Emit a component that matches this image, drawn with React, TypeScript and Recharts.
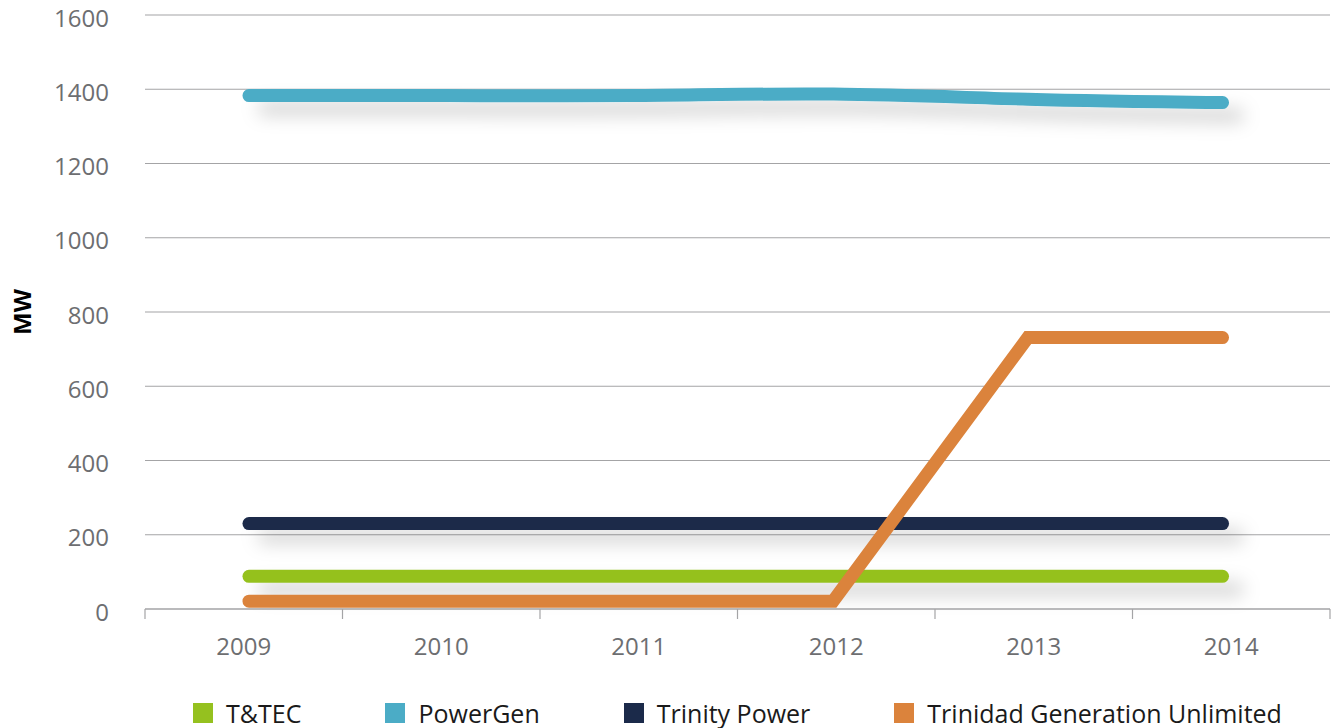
import React from 'react';
import { LineChart, Line, XAxis, YAxis, CartesianGrid, Legend } from 'recharts';

const years = ['2009', '2010', '2011', '2012', '2013', '2014'];
const ttec = [88, 88, 88, 88, 88, 88];
const powerGen = [1383, 1383, 1383, 1387, 1373, 1364];
const trinityPower = [230, 230, 230, 230, 230, 230];
const tgu = [21, 21, 21, 21, 731, 731];
const yTicks = [0, 200, 400, 600, 800, 1000, 1200, 1400, 1600];

const seriesNames = ['T&TEC', 'PowerGen', 'Trinity Power', 'Trinidad Generation Unlimited'];
const seriesKeys = ['ttec', 'powerGen', 'trinity', 'tgu'];
const seriesColors = ['#95c11f', '#4bacc6', '#1b2a4a', '#db833c'];

const data = years.map((year, i) => ({
  year,
  idx: i,
  ttec: ttec[i],
  powerGen: powerGen[i],
  trinity: trinityPower[i],
  tgu: tgu[i],
}));

const FONT = '"Open Sans", "Noto Sans", sans-serif';
const GRID = '#a4a4a6';
const TICK_TEXT = '#6d6e71';

const XTick = (props: any) => {
  const { x, y, payload } = props;
  const half = payload && typeof payload.offset === 'number' ? payload.offset : 0;
  const isLast = payload.value === years[years.length - 1];
  return (
    <g>
      <line x1={x - half} x2={x - half} y1={y} y2={y + 10} stroke={GRID} strokeWidth={1.2} />
      {isLast && <line x1={x + half} x2={x + half} y1={y} y2={y + 10} stroke={GRID} strokeWidth={1.2} />}
      <text x={x} y={y + 45.5} textAnchor="middle" fill={TICK_TEXT} fontSize={24} fontFamily={FONT}>
        {payload.value}
      </text>
    </g>
  );
};

const YTick = (props: any) => {
  const { x, y, payload } = props;
  return (
    <text x={x} y={y + 11.5} textAnchor="end" fill={TICK_TEXT} fontSize={24} fontFamily={FONT}>
      {payload.value}
    </text>
  );
};

const LegendContent = () => (
  <div
    style={{
      display: 'flex',
      justifyContent: 'center',
      alignItems: 'center',
      gap: 84,
      fontFamily: FONT,
      width: '100%',
    }}
  >
    {seriesNames.map((name, i) => (
      <div key={name} style={{ display: 'flex', alignItems: 'flex-start', height: 20 }}>
        <span style={{ display: 'inline-block', width: 20, height: 20, background: seriesColors[i], marginRight: 13 }} />
        <span style={{ fontSize: 25, lineHeight: '20px', color: '#1a1a1a', whiteSpace: 'nowrap' }}>{name}</span>
      </div>
    ))}
  </div>
);

export default function App() {
  return (
    <div style={{ position: 'absolute', left: 0, top: 0, width: 1332, height: 728, background: '#fff' }}>
      <LineChart width={1332} height={728} data={data} margin={{ top: 15, right: 2, left: 0, bottom: 59 }}>
        <defs>
          <filter id="lineShadow" filterUnits="userSpaceOnUse" x="0" y="0" width="1332" height="728">
            <feDropShadow dx="15" dy="13" stdDeviation="9" floodColor="#000" floodOpacity="0.18" />
          </filter>
        </defs>
        <CartesianGrid xAxisId="cat" vertical={false} stroke={GRID} strokeWidth={1.2} />
        <XAxis
          xAxisId="cat"
          dataKey="year"
          type="category"
          scale="band"
          height={60}
          axisLine={{ stroke: GRID, strokeWidth: 1.2 }}
          tickLine={false}
          tickSize={0}
          tickMargin={0}
          interval={0}
          tick={<XTick />}
        />
        <XAxis xAxisId="num" dataKey="idx" type="number" domain={[-0.534, 5.552]} hide />
        <YAxis
          domain={[0, 1600]}
          ticks={yTicks}
          width={145}
          axisLine={false}
          tickLine={false}
          tickSize={0}
          tickMargin={36}
          interval={0}
          tick={<YTick />}
          label={{
            value: 'MW',
            angle: -90,
            position: 'insideLeft',
            offset: 22,
            style: { fontFamily: FONT, fontWeight: 700, fontSize: 24, fill: '#000', textAnchor: 'middle' },
          }}
        />
        <Legend
          verticalAlign="middle"
          layout="horizontal"
          wrapperStyle={{ left: 145, top: 703, width: 1185 }}
          content={<LegendContent />}
        />
        {seriesKeys.map((key, i) => (
          <Line
            key={key}
            xAxisId="num"
            dataKey={key}
            name={seriesNames[i]}
            type={key === 'powerGen' ? 'natural' : 'linear'}
            stroke={seriesColors[i]}
            strokeWidth={13}
            strokeLinecap="round"
            strokeLinejoin="miter"
            dot={false}
            activeDot={false}
            isAnimationActive={false}
            filter={key === 'tgu' ? undefined : 'url(#lineShadow)'}
          />
        ))}
      </LineChart>
    </div>
  );
}
